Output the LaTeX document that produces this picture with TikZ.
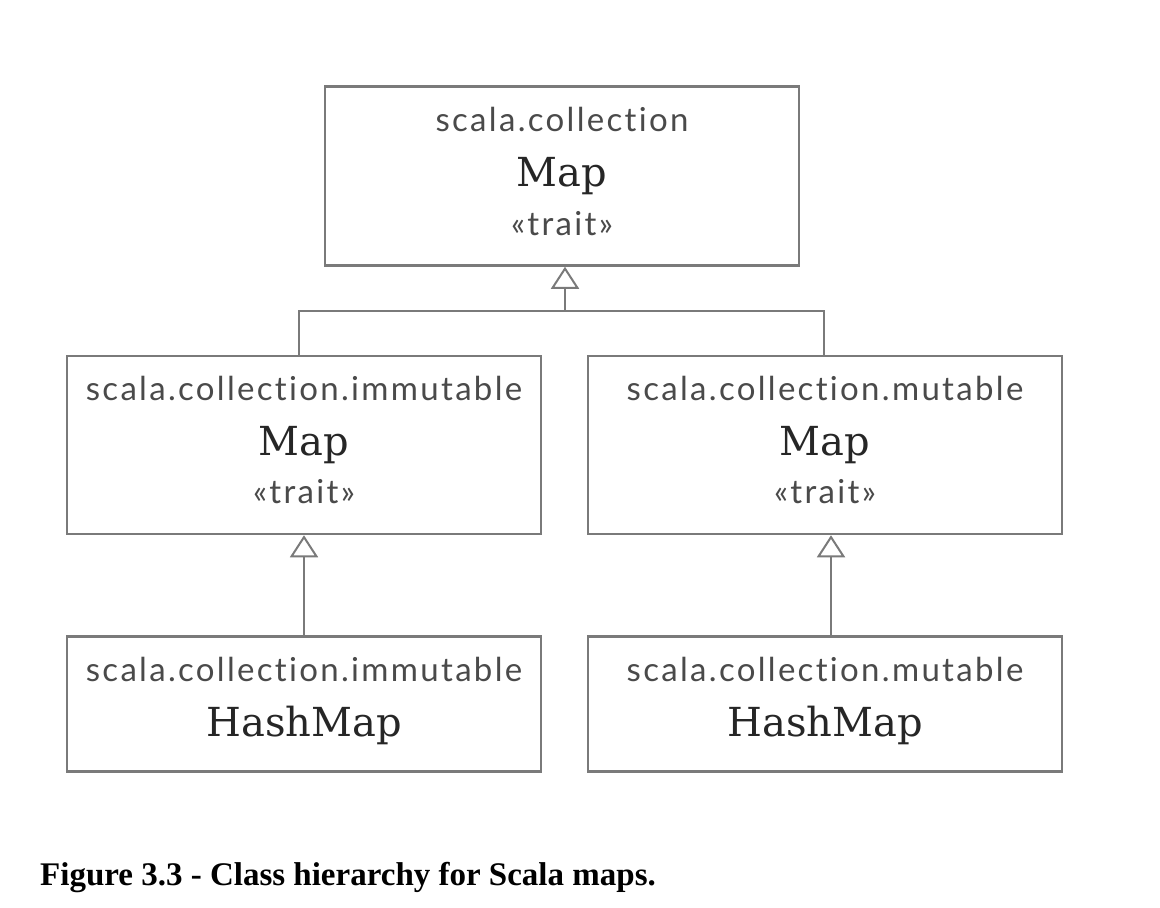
\documentclass[tikz,border=0pt]{standalone}
\usepackage{fontspec}
\setmainfont{Liberation Serif}
\newfontfamily\pkgfont[LetterSpace=7,Ligatures=NoCommon]{Lato}
\newfontfamily\clsfont{DejaVu Serif}
\usepackage{xcolor}
\usepackage{tikz}
\usetikzlibrary{positioning}
\usetikzlibrary{calc}
\usetikzlibrary{arrows.meta}

\definecolor{boxgray}{HTML}{7A7A7A}
\definecolor{pkggray}{HTML}{4A4A4A}
\definecolor{clsgray}{HTML}{262626}

\begin{document}
\begin{tikzpicture}
    [%%%%%%%%%%%%%%%%%%%%%%%%%%%%%%
        x=1pt, y=-1pt,
        classbox/.style={rectangle,draw=boxgray,line width=2.5pt,minimum width=474pt},
        pkg/.style={anchor=base,inner sep=0pt,text=pkggray,font=\pkgfont\fontsize{33}{33}\selectfont},
        cls/.style={anchor=base,inner sep=0pt,text=clsgray,font=\clsfont\fontsize{40}{40}\selectfont},
        stereo/.style={anchor=base,inner sep=0pt,text=pkggray,font=\pkgfont\fontsize{33}{33}\selectfont},
        link/.style={draw=boxgray,line width=2.5pt},
        inherit/.style={link,-{Triangle[open,width=28pt,length=22pt,line width=2pt]}}
    ]%%%%%%%%%%%%%%%%%%%%%%%%%%%%%%

\useasboundingbox (0,0) rectangle (1160,908);

% boxes
\node[classbox,minimum height=179pt] (collmap) at (562,176) {};
\node[classbox,minimum height=178pt] (immap) at (304,445) {};
\node[classbox,minimum height=178pt] (mumap) at (825,445) {};
\node[classbox,minimum height=135pt] (imhash) at (304,704) {};
\node[classbox,minimum height=135pt] (muhash) at (825,704) {};

% texts
\node[pkg] (collpkg) at ([yshift=-46pt]collmap.north) {scala.collection};
\node[cls] (collname) at ([yshift=-101pt]collmap.north) {Map};
\node[stereo] (collst) at ([yshift=-150pt]collmap.north) {«trait»};

\foreach \b/\p in {immap/immutable,mumap/mutable}{
    \node[pkg] (\b pkg) at ([yshift=-46pt]\b.north) {scala.collection.\p};
    \node[cls] (\b name) at ([yshift=-101pt]\b.north) {Map};
    \node[stereo] (\b st) at ([yshift=-149pt]\b.north) {«trait»};
}
\foreach \b/\p in {imhash/immutable,muhash/mutable}{
    \node[pkg] (\b pkg) at ([yshift=-46pt]\b.north) {scala.collection.\p};
    \node[cls] (\b name) at ([yshift=-101pt]\b.north) {HashMap};
}

% connectors
\coordinate (fork) at (565,311);
\draw[inherit] (fork) -- (collmap.south -| fork);
\draw[link] ([xshift=-5pt]immap.north) |- (fork) -| ([xshift=-1pt]mumap.north);
\draw[inherit] (imhash.north) -- (immap.south);
\draw[inherit] ([xshift=6pt]muhash.north) -- ([xshift=6pt]mumap.south);

% caption
\node[anchor=base west,inner sep=0pt,font=\bfseries\fontsize{33}{33}\selectfont] (caption) at (40,885) {Figure 3.3 - Class hierarchy for Scala maps.};

\end{tikzpicture}
\end{document}
